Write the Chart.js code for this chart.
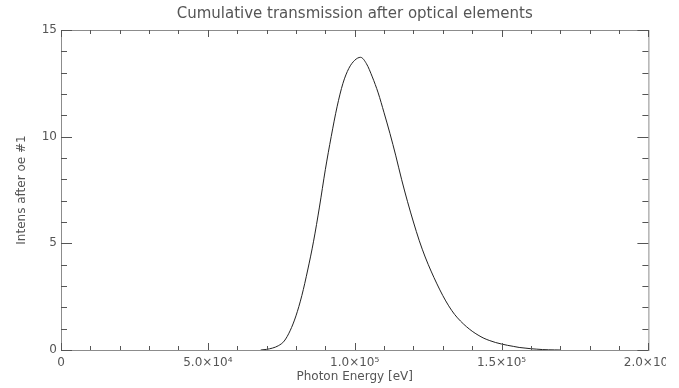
<!DOCTYPE html>
<html>
<head>
<meta charset="utf-8">
<title>Cumulative transmission after optical elements</title>
<script src="https://cdn.jsdelivr.net/npm/chart.js@4/dist/chart.umd.min.js"></script>
<style>
  html, body { margin: 0; padding: 0; background: #fff; }
  #wrap { width: 679px; height: 388px; }
</style>
</head>
<body>
<div id="wrap"><canvas id="chart" width="679" height="388"></canvas></div>
<script>
// photon energy [eV]
const energy = [
  68000, 70000, 72000, 74000, 76000, 78000, 80000, 82000, 84000, 86000,
  88000, 90000, 92000, 94000, 96000, 98000, 100000, 102000, 104000, 106000,
  108000, 110000, 112000, 114000, 116000, 118000, 120000, 122000, 124000, 126000,
  128000, 130000, 132000, 134000, 136000, 138000, 140000, 142000, 144000, 146000,
  148000, 150000, 152000, 154000, 156000, 158000, 160000, 162000, 164000, 166000,
  168000, 170000
];
// intensity after optical element #1
const intensity = [
  0, 0.03, 0.09, 0.2, 0.42, 0.9, 1.6, 2.55, 3.75, 5.1,
  6.7, 8.45, 10.0, 11.4, 12.5, 13.2, 13.58, 13.72, 13.42, 12.8,
  12.05, 11.12, 10.15, 9.1, 7.98, 6.95, 6.0, 5.12, 4.36, 3.7,
  3.1, 2.55, 2.07, 1.67, 1.36, 1.1, 0.88, 0.7, 0.55, 0.44,
  0.35, 0.28, 0.22, 0.17, 0.12, 0.09, 0.06, 0.04, 0.02, 0.01,
  0.005, 0
];

const xTickValues = [0, 50000, 100000, 150000, 200000];
const xTickLabels = ['0', '5.0×10⁴', '1.0×10⁵', '1.5×10⁵', '2.0×10⁵'];
const yTickValues = [0, 5, 10, 15];
const yTickLabels = ['0', '5', '10', '15'];
const xMinorStep = 10000;
const yMinorStep = 1;

const textColor = '#555';
const font = 'DejaVu Sans';

// IDL style box: frame on all four sides, ticks pointing inwards
const idlFrame = {
  id: 'idlFrame',
  afterDatasetsDraw(chart) {
    const { ctx, chartArea: a, scales: { x, y } } = chart;
    ctx.save();
    ctx.lineWidth = 1;
    ctx.strokeStyle = '#8c8c8c';
    ctx.strokeRect(a.left + 0.5, a.top + 0.5, a.right - a.left, a.bottom - a.top);

    ctx.strokeStyle = '#555';
    ctx.beginPath();
    for (let v = x.min; v <= x.max; v += xMinorStep) {
      const px = Math.round(x.getPixelForValue(v)) + 0.5;
      const len = xTickValues.includes(v) ? 7 : 4;
      ctx.moveTo(px, a.bottom); ctx.lineTo(px, a.bottom - len);
      ctx.moveTo(px, a.top); ctx.lineTo(px, a.top + len);
    }
    for (let v = y.min; v <= y.max; v += yMinorStep) {
      const py = Math.round(y.getPixelForValue(v)) + 0.5;
      const len = yTickValues.includes(v) ? 11 : 6;
      ctx.moveTo(a.left, py); ctx.lineTo(a.left + len, py);
      ctx.moveTo(a.right, py); ctx.lineTo(a.right - len, py);
    }
    ctx.stroke();
    ctx.restore();
  },
  afterDraw(chart) {
    // the original picture is cut off just after "2.0×10"
    const { ctx } = chart;
    ctx.save();
    ctx.fillStyle = '#fff';
    ctx.fillRect(666, chart.chartArea.bottom + 2, 13, 30);
    ctx.restore();
  }
};

new Chart(document.getElementById('chart'), {
  type: 'line',
  data: {
    datasets: [{
      data: energy.map((e, i) => ({ x: e, y: intensity[i] })),
      borderColor: '#222',
      borderWidth: 1,
      pointRadius: 0,
      cubicInterpolationMode: 'monotone',
      fill: false
    }]
  },
  options: {
    responsive: false,
    animation: false,
    devicePixelRatio: 1,
    layout: { padding: { left: 0, right: 29, top: 0, bottom: 0 } },
    plugins: {
      legend: { display: false },
      tooltip: { enabled: false },
      title: {
        display: true,
        text: 'Cumulative transmission after optical elements',
        fullSize: false,
        color: textColor,
        font: { family: font, size: 15, weight: 'normal', lineHeight: 1.2 },
        padding: { top: 5, bottom: 7 }
      }
    },
    scales: {
      x: {
        type: 'linear',
        min: 0,
        max: 200000,
        afterBuildTicks: s => { s.ticks = xTickValues.map(v => ({ value: v })); },
        afterFit: s => { s.height = 38; },
        grid: { display: false, drawTicks: false },
        border: { display: false },
        ticks: {
          color: textColor,
          font: { family: font, size: 12 },
          padding: 6,
          maxRotation: 0,
          autoSkip: false,
          callback: v => xTickLabels[xTickValues.indexOf(v)]
        },
        title: {
          display: true,
          text: 'Photon Energy [eV]',
          color: textColor,
          font: { family: font, size: 12, lineHeight: 1.2 },
          padding: { top: 0, bottom: 4 }
        }
      },
      y: {
        min: 0,
        max: 15,
        afterBuildTicks: s => { s.ticks = yTickValues.map(v => ({ value: v })); },
        afterFit: s => { s.width = 61; },
        grid: { display: false, drawTicks: false },
        border: { display: false },
        ticks: {
          color: textColor,
          font: { family: font, size: 12 },
          padding: 4,
          callback: v => yTickLabels[yTickValues.indexOf(v)]
        },
        title: {
          display: true,
          text: 'Intens after oe #1',
          color: textColor,
          font: { family: font, size: 12, lineHeight: 1.2 },
          padding: { top: 15, bottom: 0 }
        }
      }
    }
  },
  plugins: [idlFrame]
});
</script>
</body>
</html>
